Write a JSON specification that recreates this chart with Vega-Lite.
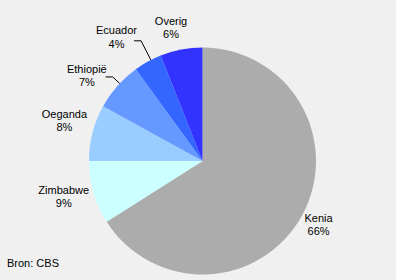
{
  "$schema": "https://vega.github.io/schema/vega-lite/v6.json",
  "width": 405,
  "height": 322,
  "autosize": "none",
  "padding": 0,
  "background": "#F0F0F0",
  "config": {"view": {"stroke": null}, "font": "Liberation Sans", "text": {"fontSize": 11, "lineHeight": 13.5, "baseline": "middle", "align": "center", "color": "#000000", "dy": -7}},
  "title": {"text": "Bron: CBS", "orient": "bottom", "anchor": "start", "frame": "group", "offset": -64, "dx": 7, "fontSize": 11, "fontWeight": "normal", "font": "Liberation Sans", "color": "#000000"},
  "data": {"values": [
    {"nr": 1, "land": "Kenia", "pct": 66},
    {"nr": 2, "land": "Zimbabwe", "pct": 9},
    {"nr": 3, "land": "Oeganda", "pct": 8},
    {"nr": 4, "land": "Ethiopië", "pct": 7},
    {"nr": 5, "land": "Ecuador", "pct": 4},
    {"nr": 6, "land": "Overig", "pct": 6}
  ]},
  "transform": [
    {"stack": "pct", "groupby": [], "sort": [{"field": "nr"}], "as": ["a0", "a1"]},
    {"calculate": "(datum.a0 + datum.a1) / 2", "as": "mid"},
    {"calculate": "[datum.land, datum.pct + '%']", "as": "label"}
  ],
  "layer": [
    {
      "mark": {"type": "arc", "radius": 113.5},
      "encoding": {
        "theta": {"field": "a0", "type": "quantitative", "scale": {"domain": [0, 100]}},
        "theta2": {"field": "a1"},
        "color": {"field": "land", "type": "nominal", "legend": null,
          "scale": {"domain": ["Kenia", "Zimbabwe", "Oeganda", "Ethiopië", "Ecuador", "Overig"],
                    "range": ["#ACACAC", "#CCFFFF", "#99CCFF", "#6699FF", "#3366FF", "#3333FF"]}}
      }
    },
    {
      "transform": [
        {"filter": "datum.land == 'Ecuador' || datum.land == 'Ethiopië'"},
        {"calculate": "datum.mid / 100 * 2 * PI + (datum.land == 'Ecuador' ? 0.03 : 0.03)", "as": "ang"},
        {"calculate": "datum.land == 'Ecuador' ? 135 : 123", "as": "rel"},
        {"calculate": "113.5 * sin(datum.ang)", "as": "x1"},
        {"calculate": "113.5 * cos(datum.ang)", "as": "y1"},
        {"calculate": "datum.rel * sin(datum.ang)", "as": "x2"},
        {"calculate": "datum.rel * cos(datum.ang)", "as": "y2"}
      ],
      "mark": {"type": "rule", "color": "#000000", "strokeWidth": 1},
      "encoding": {
        "x": {"field": "x1", "type": "quantitative", "axis": null, "scale": {"domain": [-202.5, 202.5], "nice": false, "zero": false}},
        "y": {"field": "y1", "type": "quantitative", "axis": null, "scale": {"domain": [-161, 161], "nice": false, "zero": false}},
        "x2": {"field": "x2"},
        "y2": {"field": "y2"}
      }
    },
    {
      "transform": [
        {"filter": "datum.land == 'Ecuador' || datum.land == 'Ethiopië'"},
        {"calculate": "datum.mid / 100 * 2 * PI + 0.03", "as": "ang"},
        {"calculate": "datum.land == 'Ecuador' ? 135 : 123", "as": "rel"},
        {"calculate": "datum.rel * sin(datum.ang)", "as": "x2"},
        {"calculate": "datum.rel * cos(datum.ang)", "as": "y2"},
        {"calculate": "datum.x2 - 7", "as": "x3"}
      ],
      "mark": {"type": "rule", "color": "#000000", "strokeWidth": 1},
      "encoding": {
        "x": {"field": "x2", "type": "quantitative", "axis": null, "scale": {"domain": [-202.5, 202.5], "nice": false, "zero": false}},
        "y": {"field": "y2", "type": "quantitative", "axis": null, "scale": {"domain": [-161, 161], "nice": false, "zero": false}},
        "x2": {"field": "x3"},
        "y2": {"field": "y2"}
      }
    },
    {
      "transform": [{"filter": "datum.land == 'Kenia'"}],
      "mark": {"type": "text", "radius": 133, "thetaOffset": 0.007},
      "encoding": {
        "theta": {"field": "mid", "type": "quantitative", "scale": {"domain": [0, 100]}},
        "text": {"field": "label"}
      }
    },
    {
      "transform": [{"filter": "datum.land == 'Zimbabwe' || datum.land == 'Oeganda'"}],
      "mark": {"type": "text", "radius": 143.5, "thetaOffset": 0.025},
      "encoding": {
        "theta": {"field": "mid", "type": "quantitative", "scale": {"domain": [0, 100]}},
        "text": {"field": "label"}
      }
    },
    {
      "transform": [{"filter": "datum.land == 'Ethiopië'"}],
      "mark": {"type": "text", "radius": 143, "thetaOffset": -0.094},
      "encoding": {
        "theta": {"field": "mid", "type": "quantitative", "scale": {"domain": [0, 100]}},
        "text": {"field": "label"}
      }
    },
    {
      "transform": [{"filter": "datum.land == 'Ecuador'"}],
      "mark": {"type": "text", "radius": 150, "thetaOffset": -0.108},
      "encoding": {
        "theta": {"field": "mid", "type": "quantitative", "scale": {"domain": [0, 100]}},
        "text": {"field": "label"}
      }
    },
    {
      "transform": [{"filter": "datum.land == 'Overig'"}],
      "mark": {"type": "text", "radius": 136, "thetaOffset": -0.045},
      "encoding": {
        "theta": {"field": "mid", "type": "quantitative", "scale": {"domain": [0, 100]}},
        "text": {"field": "label"}
      }
    }
  ]
}
